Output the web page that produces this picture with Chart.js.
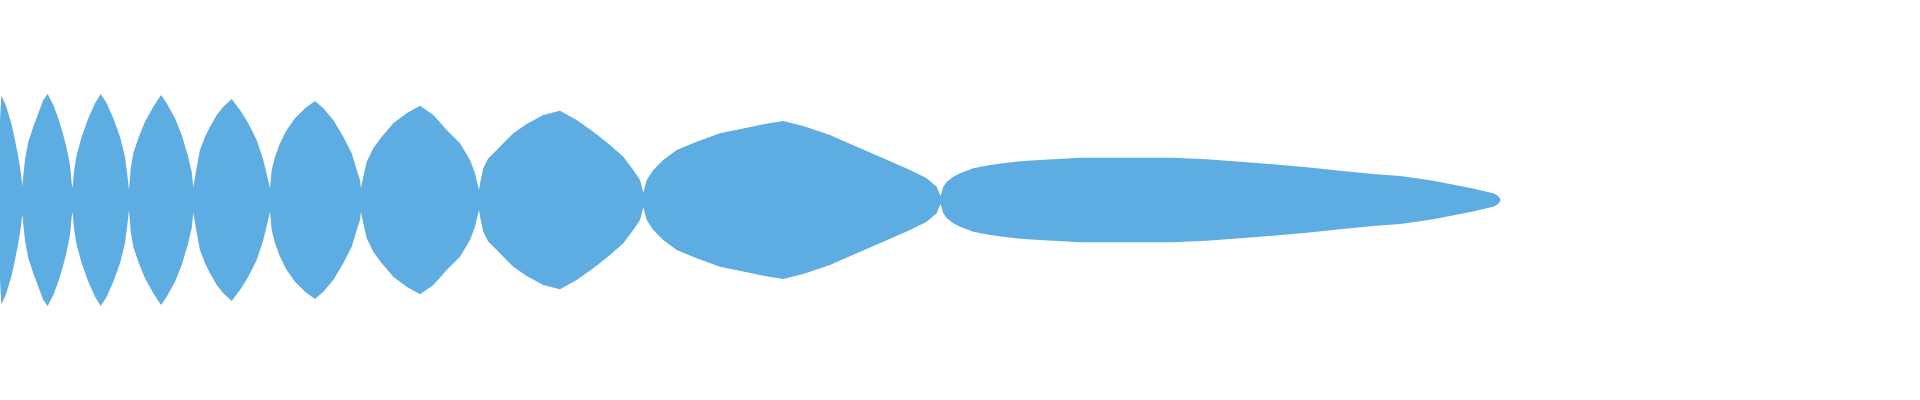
<!DOCTYPE html>
<html>
<head>
<meta charset="utf-8">
<script src="https://cdn.jsdelivr.net/npm/chart.js@4"></script>
<style>
  html, body { margin: 0; padding: 0; background: #ffffff; }
  #wrap { width: 1920px; height: 400px; position: relative; }
</style>
</head>
<body>
<div id="wrap"><canvas id="chartCanvas"></canvas></div>
<script>
// Envelope of the signal (upper half; lower half is the mirror)
const positions = [
  0, 1.3, 5, 8.3, 11.7, 15, 18.3, 20.7, 22, 22.3,
  23, 25, 28.3, 33.3, 38.3, 43.3, 47.7, 53.3, 58.3, 63.3, 66.7, 70, 71.7, 72.5,
  74, 76.7, 81.7, 88.3, 95, 100.7, 106.7, 113.3, 120, 125, 127.7, 129,
  130.7, 133.3, 138.3, 145, 153.3, 161, 166.7, 175, 181.7, 187.7, 191.7, 193.3,
  196.7, 200, 205, 210, 216.7, 223.3, 231.7, 240, 248.3, 256.7, 263.3, 267.3, 270,
  271.7, 275, 280, 286.7, 295, 305, 315, 323.3, 333.3, 343.3, 351.7, 356.7, 360, 361,
  363.3, 366.7, 373.3, 381.7, 393.3, 406.7, 420, 433.3, 446.7, 460, 470, 475, 479,
  480.7, 483.3, 488.3, 495, 503.3, 513.3, 526.7, 543.3, 560, 576.7, 593.3, 610, 623.3, 633.3, 640, 643.3,
  646.7, 653.3, 663.3, 676.7, 696.7, 720, 746.7, 763.3, 783.3, 803.3, 830, 856.7, 883.3, 910, 926.7, 936.7, 940.5,
  943.3, 946.7, 953.3, 960, 973.3, 990, 1006.7, 1023.3, 1040, 1080, 1173.3, 1206.7, 1240, 1273.3, 1306.7, 1340, 1373.3,
  1400, 1416.7, 1433.3, 1450, 1466.7, 1476.7, 1486.7, 1493.3, 1496.7, 1499.3, 1500.7
];
const envelope = [
  80, 104.3, 96.7, 86.7, 75, 60, 43.3, 28.3, 16.7, 14,
  21.7, 40, 58.3, 73.3, 86.7, 100, 106, 95, 81.7, 65, 51.7, 35, 16.7, 12,
  29, 45, 63.3, 81.7, 96.7, 106, 96.7, 81.7, 63.3, 43.3, 21.7, 10,
  31.7, 46.7, 61.7, 78.3, 93.3, 105, 96.7, 81.7, 65, 45, 28.3, 13,
  33, 50, 63.3, 73.3, 85, 93.3, 101, 90, 76.7, 60, 40, 23.3, 11.7,
  30, 43.3, 56.7, 70, 81.7, 91.7, 99, 91.7, 80, 63.3, 46.7, 30, 20, 11.7,
  23.3, 38.3, 51.7, 63.3, 76.7, 86.7, 94.3, 85, 70, 56.7, 40, 26.7, 10,
  20, 31.7, 41.7, 48.3, 56.7, 66.7, 76, 85, 89.3, 80, 68.3, 55, 43.3, 30, 20, 7.3,
  20, 30, 40, 50, 58.3, 66.7, 72.3, 75.7, 79, 74, 65, 53.3, 41.7, 30, 21.7, 13.3, 4,
  13.3, 18.3, 23.3, 26.7, 31.7, 35, 37.3, 39, 40, 42.3, 42.3, 40.7, 38.3, 35.7, 32.7, 29.3, 26,
  24, 21.7, 19.3, 16, 12.7, 10.7, 8.3, 6.7, 5, 2.7, 0
];
const xRange = [0, 1920];
const yRange = [-200, 200];

const fillColor = "#5dade2";

function buildPoints(sign) {
  return positions.map((x, i) => ({ x: x, y: sign * envelope[i] }));
}

document.addEventListener("DOMContentLoaded", () => {
  const ctx = document.getElementById("chartCanvas").getContext("2d");

  window.myChart = new Chart(ctx, {
    type: "line",
    data: {
      datasets: [
        {
          label: "upper",
          data: buildPoints(1),
          borderWidth: 0,
          borderColor: fillColor,
          backgroundColor: fillColor,
          pointRadius: 0,
          tension: 0,
          fill: "origin",
        },
        {
          label: "lower",
          data: buildPoints(-1),
          borderWidth: 0,
          borderColor: fillColor,
          backgroundColor: fillColor,
          pointRadius: 0,
          tension: 0,
          fill: "origin",
        },
      ],
    },
    options: {
      responsive: true,
      maintainAspectRatio: false,
      animation: false,
      layout: { padding: 0 },
      plugins: {
        legend: { display: false },
        tooltip: { enabled: false },
      },
      scales: {
        x: { type: "linear", display: false, min: xRange[0], max: xRange[1] },
        y: { display: false, min: yRange[0], max: yRange[1] },
      },
    },
  });
});
</script>
</body>
</html>
